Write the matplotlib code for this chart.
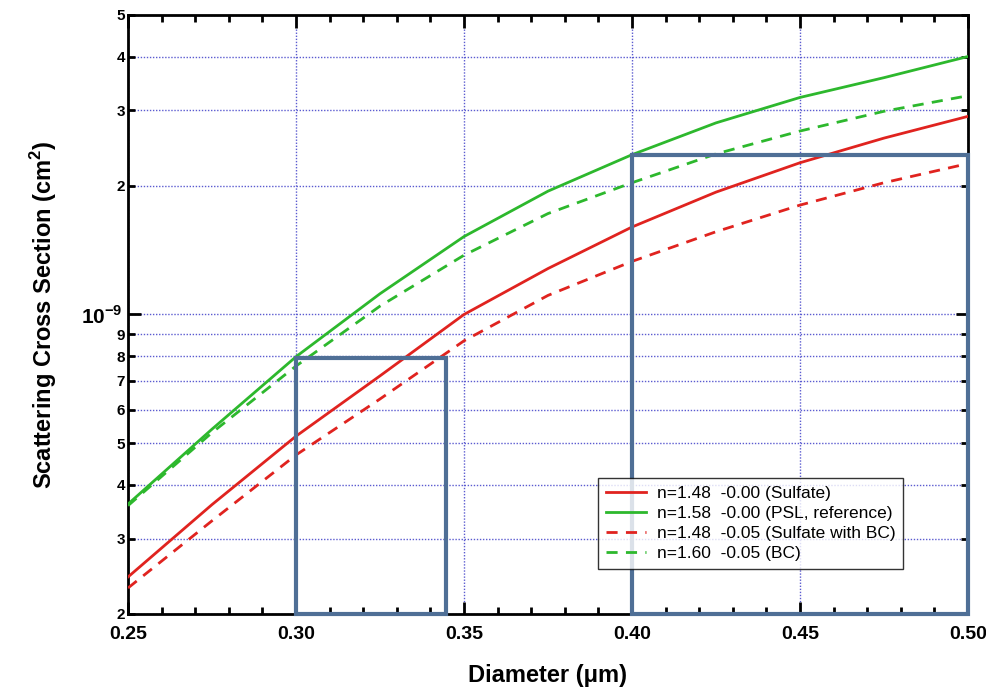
import matplotlib
matplotlib.use("Agg")
import matplotlib.pyplot as plt
from matplotlib.ticker import FixedLocator, FixedFormatter, MultipleLocator, NullFormatter
from matplotlib.patches import Rectangle

plt.rcParams['font.family'] = ['Liberation Sans', 'DejaVu Sans']
plt.rcParams['mathtext.fontset'] = 'custom'
plt.rcParams['mathtext.rm'] = 'Liberation Sans:bold'
plt.rcParams['mathtext.bf'] = 'Liberation Sans:bold'

diameter = [0.25, 0.275, 0.30, 0.325, 0.35, 0.375, 0.40, 0.425, 0.45, 0.475, 0.50]
sulfate = [2.44e-10, 3.60e-10, 5.20e-10, 7.19e-10, 1.00e-9, 1.28e-9, 1.60e-9, 1.93e-9, 2.26e-9, 2.58e-9, 2.90e-9]
psl = [3.61e-10, 5.40e-10, 7.97e-10, 1.118e-9, 1.52e-9, 1.94e-9, 2.36e-9, 2.80e-9, 3.21e-9, 3.57e-9, 4.00e-9]
sulfate_bc = [2.30e-10, 3.30e-10, 4.70e-10, 6.35e-10, 8.68e-10, 1.108e-9, 1.33e-9, 1.56e-9, 1.80e-9, 2.03e-9, 2.25e-9]
bc = [3.58e-10, 5.30e-10, 7.58e-10, 1.046e-9, 1.375e-9, 1.72e-9, 2.03e-9, 2.37e-9, 2.68e-9, 2.98e-9, 3.24e-9]

labels = ["n=1.48  -0.00 (Sulfate)", "n=1.58  -0.00 (PSL, reference)",
          "n=1.48  -0.05 (Sulfate with BC)", "n=1.60  -0.05 (BC)"]

rect1_x = [0.30, 0.3445]
rect1_y = [2e-10, 7.9e-10]
rect2_x = [0.40, 0.50]
rect2_y = [2e-10, 2.36e-9]

x_ticks = [0.25, 0.30, 0.35, 0.40, 0.45, 0.50]
x_ticklabels = ["0.25", "0.30", "0.35", "0.40", "0.45", "0.50"]
y_major = [1e-9]
y_major_labels = [r"$10^{-9}$"]
y_minor = [2e-10, 3e-10, 4e-10, 5e-10, 6e-10, 7e-10, 8e-10, 9e-10, 2e-9, 3e-9, 4e-9, 5e-9]
y_minor_labels = ["2", "3", "4", "5", "6", "7", "8", "9", "2", "3", "4", "5"]

red = '#e0231f'
green = '#2db82d'
boxc = '#4f6f96'
gridc = '#5b5bd0'

fig = plt.figure(figsize=(9.87, 6.94), dpi=100)
ax = fig.add_axes([0.1297, 0.1153, 0.851, 0.8631])
ax.set_yscale('log')
ax.set_xlim(0.25, 0.50)
ax.set_ylim(2e-10, 5e-9)

ax.plot(diameter, sulfate, color=red, lw=2, label=labels[0], zorder=3)
ax.plot(diameter, psl, color=green, lw=2, label=labels[1], zorder=3)
ax.plot(diameter, sulfate_bc, color=red, lw=2, ls=(0, (4, 3)), label=labels[2], zorder=3)
ax.plot(diameter, bc, color=green, lw=2, ls=(0, (4, 3)), label=labels[3], zorder=3)

for rx, ry in [(rect1_x, rect1_y), (rect2_x, rect2_y)]:
    ax.add_patch(Rectangle((rx[0], ry[0]), rx[1] - rx[0], ry[1] - ry[0],
                           fill=False, edgecolor=boxc, lw=3, zorder=4, clip_on=False))

ax.xaxis.set_major_locator(FixedLocator(x_ticks))
ax.xaxis.set_major_formatter(FixedFormatter(x_ticklabels))
ax.xaxis.set_minor_locator(MultipleLocator(0.01))
ax.xaxis.set_minor_formatter(NullFormatter())
ax.yaxis.set_major_locator(FixedLocator(y_major))
ax.yaxis.set_major_formatter(FixedFormatter(y_major_labels))
ax.yaxis.set_minor_locator(FixedLocator(y_minor))
ax.yaxis.set_minor_formatter(FixedFormatter(y_minor_labels))

ax.tick_params(which='both', direction='in', top=True, right=True, width=2, colors='black')
ax.tick_params(which='major', length=9)
ax.tick_params(which='minor', length=5)
ax.tick_params(axis='x', which='major', labelsize=14, pad=9)
ax.tick_params(axis='y', which='major', labelsize=15, pad=4)
ax.tick_params(axis='y', which='minor', labelsize=11, pad=2)
for lab in ax.get_xticklabels() + ax.get_yticklabels(which='both'):
    lab.set_fontweight('bold')

ax.grid(True, which='major', axis='both', color=gridc, ls=(0, (1, 1.2)), lw=1)
ax.grid(True, which='minor', axis='y', color=gridc, ls=(0, (1, 1.2)), lw=1)
ax.set_axisbelow(True)

for s in ax.spines.values():
    s.set_linewidth(2)

ax.set_xlabel("Diameter (μm)", fontsize=17, fontweight='bold', labelpad=15)
ax.set_ylabel(r"Scattering Cross Section (cm$^{2}$)", fontsize=17, fontweight='bold', labelpad=16)

leg = ax.legend(loc='lower left', bbox_to_anchor=(0.56, 0.075), fontsize=12.5,
                frameon=True, fancybox=False, handlelength=2.3, handletextpad=0.6,
                borderpad=0.45, labelspacing=0.28, borderaxespad=0)
leg.get_frame().set_edgecolor('black')
leg.get_frame().set_linewidth(1)
leg.set_zorder(5)

fig.savefig('out.png', dpi=100)
